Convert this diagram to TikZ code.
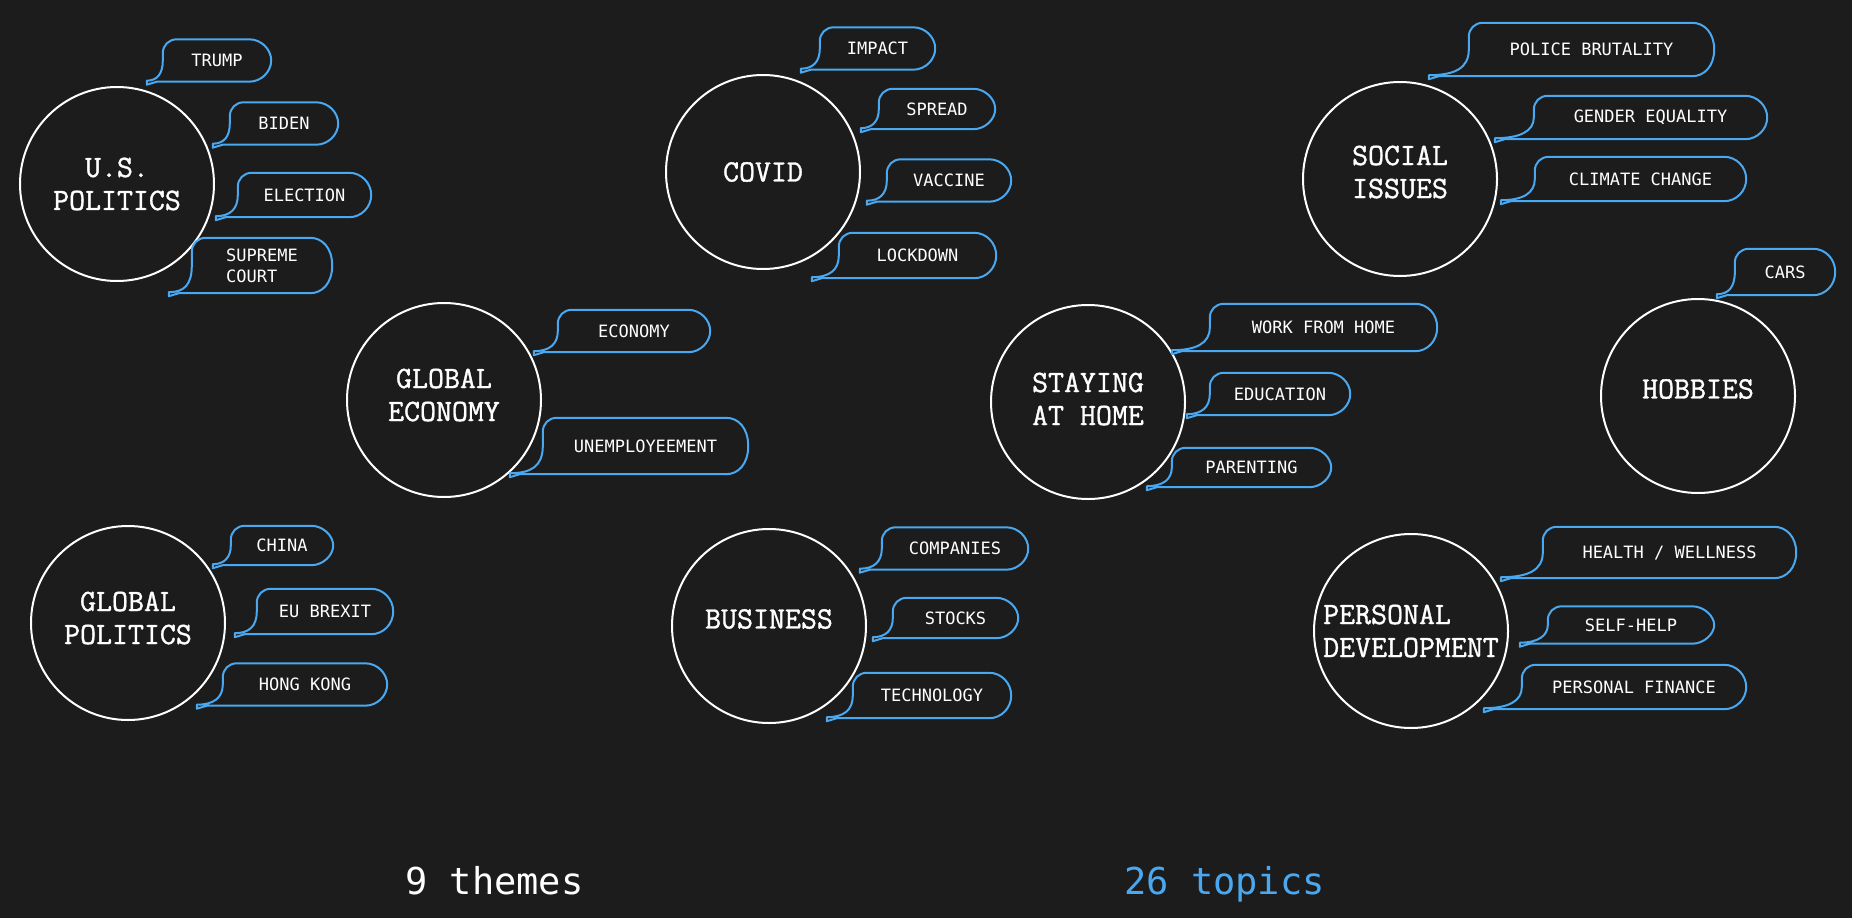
\documentclass[tikz,border=0pt]{standalone}
\usepackage{fontspec}
\newfontfamily\themefont{Latin Modern Mono}[FakeBold=1.2]
\newfontfamily\topicfont{DejaVu Sans Mono}

\definecolor{bg}{HTML}{1C1C1C}
\definecolor{topicblue}{HTML}{4AA8F0}

\tikzset{
  ring/.style={draw=white, line width=2},
  theme/.style={text=white, font=\themefont\fontsize{31}{33}\selectfont, align=center},
  topic/.style={text=white, font=\topicfont\fontsize{17}{21}\selectfont, inner sep=0, minimum height=42},
  bubbleline/.style={draw=topicblue, line width=2, line join=round},
  count/.style={anchor=base west, inner sep=0, font=\topicfont\fontsize{37}{44}\selectfont}
}

\begin{document}
\begin{tikzpicture}[x=1pt, y=-1pt]

\fill[bg] (0,0) rectangle (1852,918);

% themes (text sits a little above the middle of some rings)
\node[theme] (uspol) at (117,184) {U.S.\\POLITICS};
\node[theme] (covid) at (763,172) {COVID};
\node[theme, yshift=7] (social) at (1400,179) {SOCIAL\\ISSUES};
\node[theme, yshift=5] (globecon) at (444,400) {GLOBAL\\ECONOMY};
\node[theme, yshift=3] (home) at (1088,402) {STAYING\\AT HOME};
\node[theme, yshift=7] (hobbies) at (1698,396) {HOBBIES};
\node[theme, yshift=5] (globpol) at (128,623) {GLOBAL\\POLITICS};
\node[theme, yshift=7] (business) at (769,626) {BUSINESS};
\node[theme, align=left] (persdev) at (1411,631) {PERSONAL\\DEVELOPMENT};

\foreach \n/\d in {uspol/0, covid/0, social/7, globecon/5, home/3, hobbies/7, globpol/5, business/7, persdev/0}
{
  \draw[ring] ([yshift=-\d]\n.center) circle[radius=97];
}

% topics
\node[topic, minimum width=108] (trump) at (217,60.5) {TRUMP};
\node[topic, minimum width=108] (biden) at (284,123.5) {BIDEN};
\node[topic, minimum width=133, minimum height=44] (election) at (304.5,195) {ELECTION};
\node[topic, minimum width=140, minimum height=55, align=left] (supreme) at (262,265.5) {SUPREME\\COURT};

\node[topic, minimum width=115] (impact) at (877.5,48.5) {IMPACT};
\node[topic, minimum width=116, minimum height=40] (spread) at (937,109) {SPREAD};
\node[topic, minimum width=124] (vaccine) at (949,180.5) {VACCINE};
\node[topic, minimum width=157, minimum height=45] (lockdown) at (917.5,255.5) {LOCKDOWN};

\node[topic, minimum width=245, minimum height=53] (police) at (1591.5,49.5) {POLICE BRUTALITY};
\node[topic, minimum width=233, minimum height=43] (gender) at (1650.5,117.5) {GENDER EQUALITY};
\node[topic, minimum width=211, minimum height=44] (climate) at (1640.5,179) {CLIMATE CHANGE};

\node[topic, minimum width=100, minimum height=46] (cars) at (1785,272) {CARS};

\node[topic, minimum width=152] (economy) at (634,331) {ECONOMY};
\node[topic, minimum width=205, minimum height=56] (unemploy) at (645.5,446) {UNEMPLOYEEMENT};

\node[topic, minimum width=227, minimum height=47] (workhome) at (1323.5,327.5) {WORK FROM HOME};
\node[topic, minimum width=140] (education) at (1280,394) {EDUCATION};
\node[topic, minimum width=159, minimum height=39] (parenting) at (1251.5,467.5) {PARENTING};

\node[topic, minimum width=102, minimum height=39] (china) at (282,545.5) {CHINA};
\node[topic, minimum width=136, minimum height=45] (brexit) at (325,611.5) {EU BREXIT};
\node[topic, minimum width=164] (hongkong) at (305,684.5) {HONG KONG};

\node[topic, minimum width=146] (companies) at (955,548.5) {COMPANIES};
\node[topic, minimum width=125, minimum height=40] (stocks) at (955.5,618) {STOCKS};
\node[topic, minimum width=158, minimum height=45] (technology) at (932,695.5) {TECHNOLOGY};

\node[topic, minimum width=253, minimum height=51] (health) at (1669.5,552.5) {HEALTH / WELLNESS};
\node[topic, minimum width=166, minimum height=37] (selfhelp) at (1631,625) {SELF-HELP};
\node[topic, minimum width=224, minimum height=44] (finance) at (1634,687) {PERSONAL FINANCE};

% speech bubbles round the topics
\foreach \n/\t in {trump/16, biden/17, election/22, supreme/23, impact/19, spread/18,
  vaccine/20, lockdown/27, police/40, gender/39, climate/34, cars/18, economy/24,
  unemploy/33, workhome/38, education/23, parenting/25, china/18, brexit/22,
  hongkong/26, companies/22, stocks/20, technology/26, health/42, selfhelp/28, finance/38}
{
  \draw[bubbleline] ([xshift=-\t, yshift=1]\n.south west)
    .. controls ([xshift=-0.35*\t, yshift=1]\n.south west) and ([yshift=8]\n.south west) .. (\n.west)
    -- ([yshift=-14]\n.north west)
    .. controls ([yshift=-6]\n.north west) and ([xshift=6]\n.north west) .. ([xshift=14]\n.north west)
    -- ([xshift=-22]\n.north east)
    .. controls ([xshift=-10]\n.north east) and ([yshift=-10]\n.north east) .. (\n.east)
    .. controls ([yshift=10]\n.south east) and ([xshift=-10]\n.south east) .. ([xshift=-22]\n.south east)
    -- ([xshift=-\t+10]\n.south west) -- ([xshift=-\t, yshift=-3]\n.south west) -- cycle;
}

\node[count, text=white] (themecount) at (405,894) {9 themes};
\node[count, text=topicblue] (topiccount) at (1124,894) {26 topics};

\end{tikzpicture}
\end{document}
